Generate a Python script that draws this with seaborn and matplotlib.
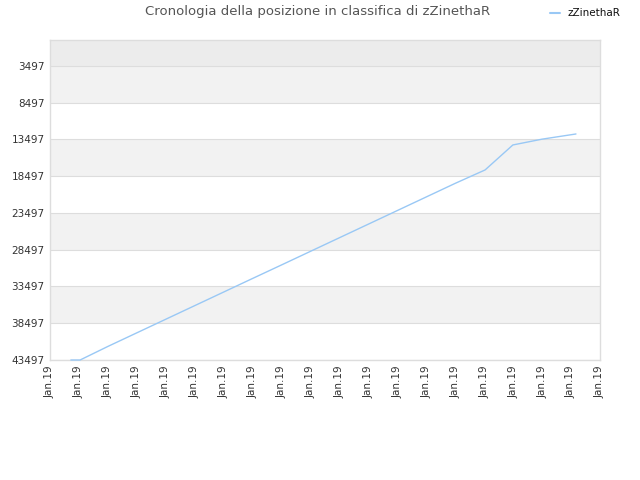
import matplotlib
matplotlib.use("Agg")
import matplotlib.pyplot as plt
import seaborn as sns
import pandas as pd

# data
player = "zZinethaR"
day_pos = [0.72, 1.04, 2, 3, 4, 5, 6, 7, 8, 9, 10, 11, 12, 13, 14, 15.03, 15.99, 17, 18.17]
rank = [43497, 43497, 41650, 39800, 37950, 36100, 34250, 32400, 30560, 28710,
        26860, 25010, 23160, 21310, 19460, 17640, 14240, 13450, 12745]
x_labels = ["Jan.19"] * 20
y_ticks = [3497, 8497, 13497, 18497, 23497, 28497, 33497, 38497, 43497]

df = pd.DataFrame({"x": day_pos, "rank": rank, "player": player})

sns.set_style("white")
plt.rcParams['font.family'] = ['DejaVu Sans']

fig = plt.figure(figsize=(6.4, 4.8), dpi=100)
ax = fig.add_axes([50 / 640, 1 - 360 / 480, 550 / 640, 320 / 480])

# alternating horizontal bands
top = -40
ax.axhspan(top, y_ticks[0], color="#ececec", lw=0, zorder=0)
for i in range(len(y_ticks) - 1):
    col = "#f2f2f2" if i % 2 == 0 else "#ffffff"
    ax.axhspan(y_ticks[i], y_ticks[i + 1], color=col, lw=0, zorder=0)
for t in y_ticks:
    ax.axhline(t, color="#dddddd", lw=0.8, zorder=1)

sns.lineplot(data=df, x="x", y="rank", hue="player", palette=["#99c8f5"],
             lw=1, ax=ax, legend=False, zorder=3)
for ln in ax.lines[-1:]:
    ln.set_clip_on(False)

ax.set_xlim(0, 19)
ax.set_ylim(43497, top)
ax.set_xticks(range(20))
ax.set_xticklabels(x_labels, rotation=90, fontsize=7.5, color="#333333")
ax.set_yticks(y_ticks)
ax.set_yticklabels([str(t) for t in y_ticks], fontsize=7.5, color="#333333")
ax.tick_params(length=0, pad=4)
ax.set_xlabel("")
ax.set_ylabel("")
for s in ax.spines.values():
    s.set_color("#dddddd")
    s.set_linewidth(1)

fig.text(318 / 640, 1 - 12 / 480, "Cronologia della posizione in classifica di zZinethaR",
         ha="center", va="center", fontsize=9.5, color="#555555")
fig.lines.append(plt.Line2D([550 / 640, 560 / 640], [1 - 13 / 480, 1 - 13 / 480],
                            transform=fig.transFigure, color="#99c8f5", lw=1.5))
fig.text(568 / 640, 1 - 13 / 480, player, ha="left", va="center", fontsize=7.5, color="#111111")

fig.savefig("out.png", dpi=100)
